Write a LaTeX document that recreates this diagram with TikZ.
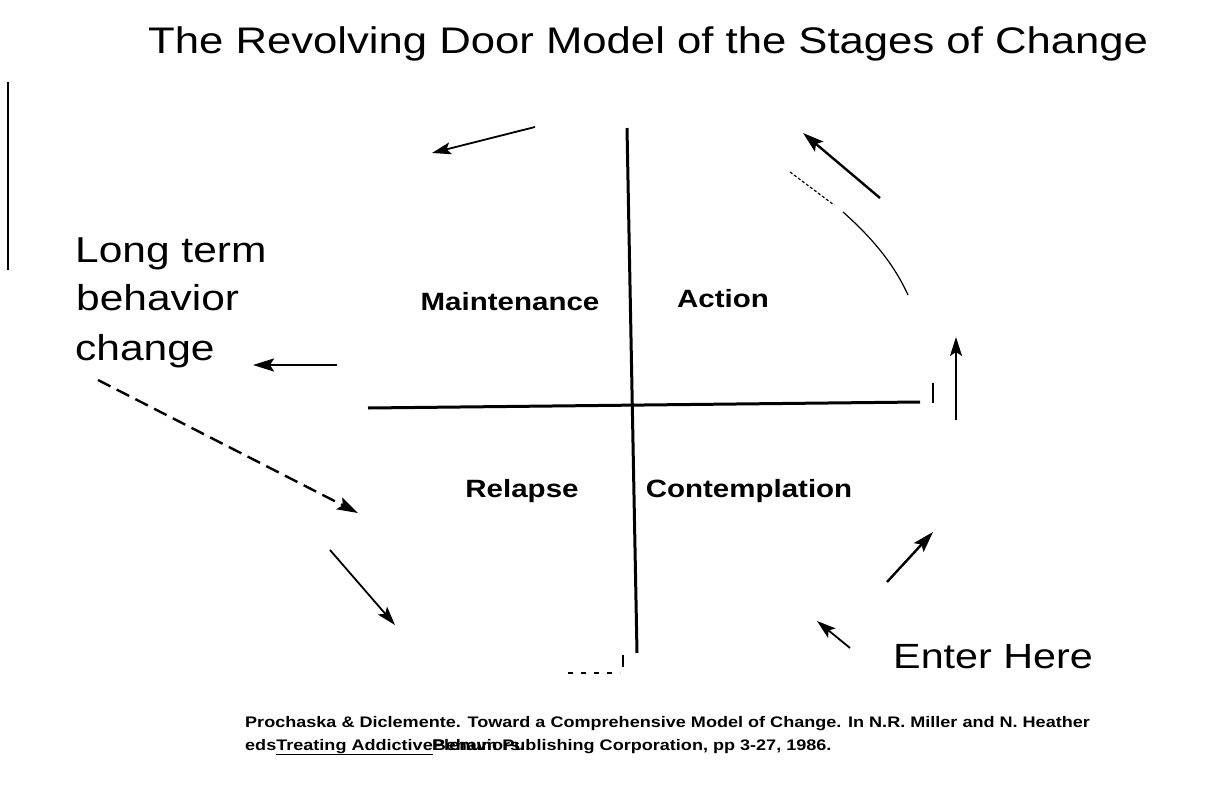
\documentclass[tikz,border=0pt]{standalone}
\usepackage{graphicx}
\usepackage{fontspec}
\setmainfont{Liberation Sans}
\usetikzlibrary{arrows.meta}
% all lettering is set a little wide
\newcommand{\widetxt}[1]{\scalebox{1.18}[1]{#1}}
\begin{document}
\begin{tikzpicture}[x=1pt,y=-1pt,
  lbl/.style={inner sep=0pt, font=\fontsize{25}{28}\selectfont\bfseries},
  big/.style={inner sep=0pt, font=\fontsize{36}{40}\selectfont},
  cite/.style={inner sep=0pt, font=\fontsize{15.3}{18}\selectfont\bfseries},
  axis/.style={line width=3pt},
  arr/.style={line width=2.4pt, -{Stealth[length=21pt,width=13pt,inset=4pt]}},
  thinarr/.style={line width=1.8pt, -{Stealth[length=19pt,width=12pt,inset=4pt]}},
  door/.style={line width=1.2pt}]
\useasboundingbox (0,0) rectangle (1228,784);
\fill[white] (0,0) rectangle (1228,784);

% title
\node[big, anchor=base west, font=\fontsize{37}{40}\selectfont] (title) at (148,53)
  {\widetxt{The Revolving Door Model of the Stages of Change}};

% left margin rule
\coordinate (m1) at (8,82);
\coordinate (m2) at (8,270);
\draw[line width=1.6pt] (m1) -- (m2);

% the cross of the revolving door
\coordinate (vt) at (627,128);
\coordinate (vb) at (637,653);
\coordinate (hl) at (368,408);
\coordinate (hr) at (920,402);
\draw[axis] (vt) -- (vb);
\draw[axis] (hl) -- (hr);

% swept arc of the door
\coordinate (a0) at (790,172);
\coordinate (a1) at (834,205);
\coordinate (a2) at (843,212);
\coordinate (a3) at (908,295);
\draw[door, densely dashed] (a0) -- (a1);
\draw[door] (a2) .. controls (870,236) and (893,262) .. (a3);

% small marks
\coordinate (t1) at (933,383);
\coordinate (t2) at (933,403);
\draw[line width=1.4pt] (t1) -- (t2);
\coordinate (t3) at (623,655);
\coordinate (t4) at (623,667);
\draw[line width=1.2pt] (t3) -- (t4);
\coordinate (d1) at (568,673);
\coordinate (d2) at (620,673);
\draw[line width=1.2pt, dash pattern=on 5pt off 8pt] (d1) -- (d2);

% stage names
\node[lbl, anchor=base] (maint) at (510,310) {\widetxt{Maintenance}};
\node[lbl, anchor=base] (action) at (723,307) {\widetxt{Action}};
\node[lbl, anchor=base] (relapse) at (522,497) {\widetxt{Relapse}};
\node[lbl, anchor=base] (contemp) at (749,497) {\widetxt{Contemplation}};

% exit label
\node[big, anchor=base west] (long1) at (75,262) {\widetxt{Long term}};
\node[big, anchor=base west] (long2) at (76,310) {\widetxt{behavior}};
\node[big, anchor=base west] (long3) at (75,360) {\widetxt{change}};

% entry label
\node[big, anchor=base west, font=\fontsize{35}{40}\selectfont] (enter) at (893,668) {\widetxt{Enter Here}};

% rotation arrows
\coordinate (p1s) at (535,127);  \coordinate (p1e) at (432,153);
\coordinate (p2s) at (880,198);  \coordinate (p2e) at (803,133);
\coordinate (p3s) at (956,420);  \coordinate (p3e) at (956,337);
\coordinate (p4s) at (887,582);  \coordinate (p4e) at (933,532);
\coordinate (p5s) at (850,648);  \coordinate (p5e) at (817,621);
\coordinate (p6s) at (330,550);  \coordinate (p6e) at (395,625);
\coordinate (p7s) at (337,365);  \coordinate (p7e) at (253,365);
\coordinate (p8s) at (98,380);   \coordinate (p8e) at (358,513);
\draw[thinarr] (p1s) -- (p1e);
\draw[arr] (p2s) -- (p2e);
\draw[thinarr] (p3s) -- (p3e);
\draw[arr] (p4s) -- (p4e);
\draw[thinarr] (p5s) -- (p5e);
\draw[thinarr] (p6s) -- (p6e);
\draw[arr] (p7s) -- (p7e);
\draw[arr, dash pattern=on 14pt off 7pt] (p8s) -- (p8e);

% reference (the second line is printed with two runs of type on top of each other)
\node[cite, anchor=base west] (ref1) at (245,727)
  {\widetxt{Prochaska \& Diclemente. Toward a Comprehensive Model of Change. In N.R. Miller and N. Heather}};
\node[cite, anchor=base west] (ref2) at (245,750)
  {\widetxt{eds\underline{Treating Addictive}Behaviors.}};
\node[cite, anchor=base west] (ref3) at (432,750)
  {\widetxt{Plenum Publishing Corporation, pp 3-27, 1986.}};
\end{tikzpicture}
\end{document}
